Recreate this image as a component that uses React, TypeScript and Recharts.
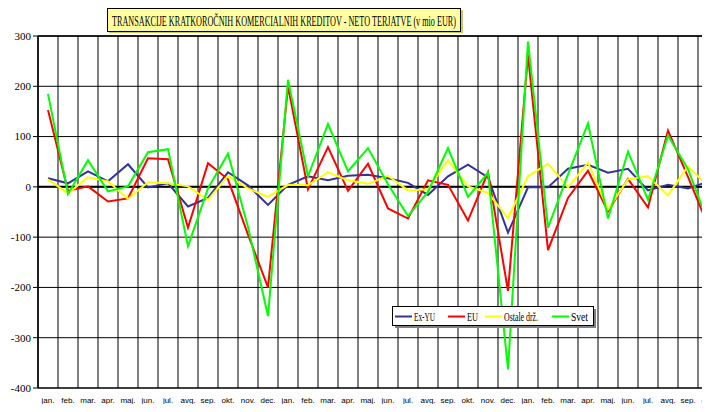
import React from 'react'
import { LineChart, Line, XAxis, YAxis, CartesianGrid, ReferenceLine } from 'recharts'

const categories = [
  'jan. 05', 'feb. 05', 'mar. 05', 'apr. 05', 'maj. 05', 'jun. 05', 'jul. 05', 'avg. 05', 'sep. 05', 'okt. 05', 'nov. 05', 'dec. 05',
  'jan. 06', 'feb. 06', 'mar. 06', 'apr. 06', 'maj. 06', 'jun. 06', 'jul. 06', 'avg. 06', 'sep. 06', 'okt. 06', 'nov. 06', 'dec. 06',
  'jan. 07', 'feb. 07', 'mar. 07', 'apr. 07', 'maj. 07', 'jun. 07', 'jul. 07', 'avg. 07', 'sep. 07', 'okt. 07',
]

const exYu = [17, 7, 31, 11, 45, -1, 7, -39, -22, 29, 3, -36, 4, 21, 13, 22, 24, 17, 8, -16, 21, 44, 19, -91, -1, -1, 36, 44, 28, 36, -7, 4, -3, 10]
const eu = [153, -8, 1, -29, -23, 57, 55, -81, 47, 15, -95, -200, 200, -5, 79, -8, 46, -43, -63, 13, 4, -67, 29, -207, 262, -126, -22, 32, -49, 16, -41, 112, 20, -77]
const ostale = [15, -13, 19, 11, -24, 9, 7, 1, -26, 22, -3, -20, 4, 3, 29, 13, 6, 22, -7, -5, 53, 1, -12, -62, 21, 46, -1, 48, -45, 15, 21, -17, 41, 1]
const svet = [185, -14, 53, -9, 1, 69, 75, -118, -3, 66, -80, -257, 213, 21, 125, 31, 77, 5, -58, -10, 77, -20, 28, -363, 289, -81, 25, 126, -63, 70, -26, 102, 35, -70]

const yTicks = [-400, -300, -200, -100, 0, 100, 200, 300]

const series = [
  { key: 'exYu', name: 'Ex-YU', color: '#333399' },
  { key: 'eu', name: 'EU', color: '#ff0000' },
  { key: 'ostale', name: 'Ostale drž.', color: '#ffff00' },
  { key: 'svet', name: 'Svet', color: '#00ff00' },
]

const data = categories.map((month, i) => ({
  month,
  exYu: exYu[i],
  eu: eu[i],
  ostale: ostale[i],
  svet: svet[i],
}))

const MonthTick = (props: any) => {
  const { x, payload } = props
  const [m, yr] = String(payload.value).split(' ')
  return (
    <text x={x} textAnchor="middle" fontFamily="Liberation Sans, Arial, sans-serif" fontSize={8} fill="#000">
      <tspan x={x} y={403}>{m}</tspan>
      <tspan x={x} y={413}>{yr}</tspan>
    </text>
  )
}

// legend item layout inside the box: line start, text width
const legendX = [3, 56, 93, 160]
const legendLens = [21, 11, 34, 17]

const LegendBox = () => (
  <svg style={{ position: 'absolute', left: 392, top: 306 }} width={206} height={24}>
    <rect x={3} y={3} width={201} height={19} fill="#808080" />
    <rect x={0.5} y={0.5} width={201} height={19} fill="#fff" stroke="#000" />
    {series.map((s, i) => (
      <g key={s.key}>
        <line x1={legendX[i]} x2={legendX[i] + 17} y1={10.5} y2={10.5} stroke={s.color} strokeWidth={2} />
        <text x={legendX[i] + 19} y={14.5} fontFamily="Liberation Serif, Times New Roman, serif" fontSize={12}
          textLength={legendLens[i]} lengthAdjust="spacingAndGlyphs" fill="#000">{s.name}</text>
      </g>
    ))}
  </svg>
)

export default function App() {
  return (
    <div style={{ margin: -8, width: 710, height: 412, overflow: 'hidden', position: 'relative', background: '#fff' }}>
      <LineChart width={718} height={412} data={data} margin={{ top: 36, right: 0, bottom: 0, left: 0 }}>
        <CartesianGrid
          stroke="#000"
          strokeWidth={1}
          verticalCoordinatesGenerator={({ offset }: any) =>
            categories.map((_, i) => offset.left + (i * offset.width) / categories.length).concat(offset.left + offset.width)
          }
        />
        <XAxis
          dataKey="month"
          height={24}
          interval={0}
          padding={{ left: 10, right: 10 }}
          axisLine={{ stroke: '#000' }}
          tickLine={false}
          tick={<MonthTick />}
        />
        <YAxis
          width={38}
          domain={[-400, 300]}
          ticks={yTicks}
          interval={0}
          axisLine={{ stroke: '#000', strokeWidth: 1.5 }}
          tickLine={{ stroke: '#000' }}
          tickSize={5}
          tickMargin={2}
          tick={{ fontFamily: 'Liberation Serif, Times New Roman, serif', fontSize: 11, fill: '#000' }}
        />
        <ReferenceLine y={0} stroke="#000" strokeWidth={2} />
        <ReferenceLine y={300} stroke="#000" strokeWidth={1.5} />
        {series.map((s) => (
          <Line
            key={s.key}
            type="linear"
            dataKey={s.key}
            name={s.name}
            stroke={s.color}
            strokeWidth={2}
            dot={false}
            isAnimationActive={false}
          />
        ))}
      </LineChart>
      <LegendBox />
      <svg style={{ position: 'absolute', left: 0, top: 0 }} width={710} height={40}>
        <rect x={109} y={10} width={354} height={23} fill="#c8c870" />
        <rect x={107.5} y={8.5} width={353} height={23} fill="#ffffa0" stroke="#000" />
        <text x={284} y={25.5} textAnchor="middle" fontFamily="Liberation Serif, Times New Roman, serif" fontSize={15}
          textLength={344} lengthAdjust="spacingAndGlyphs" fill="#000">
          TRANSAKCIJE KRATKOROČNIH KOMERCIALNIH KREDITOV - NETO TERJATVE (v mio EUR)
        </text>
      </svg>
    </div>
  )
}
